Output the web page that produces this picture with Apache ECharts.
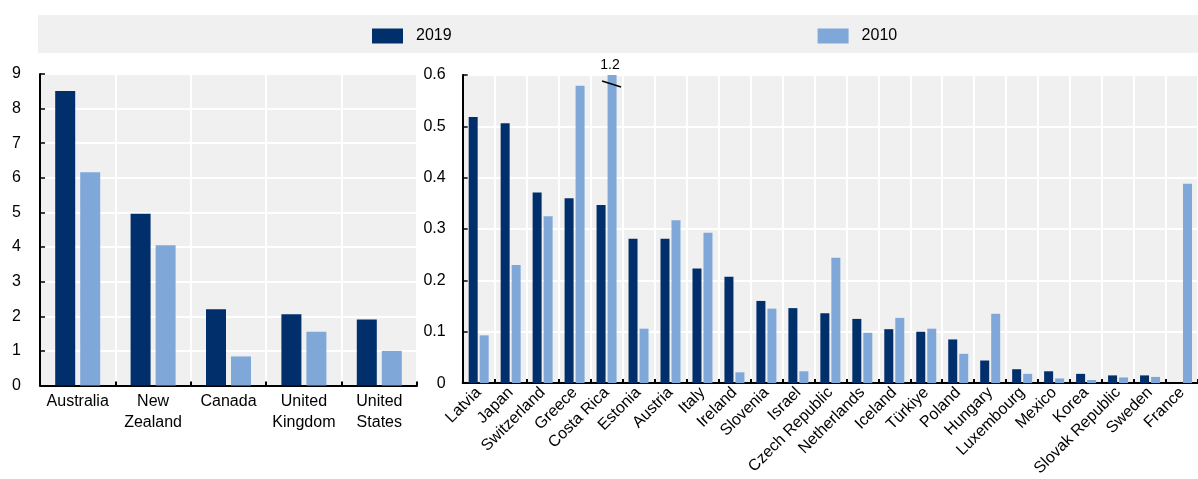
<!DOCTYPE html>
<html>
<head>
<meta charset="utf-8">
<script src="https://cdn.jsdelivr.net/npm/echarts@6/dist/echarts.min.js"></script>
<style>
html,body{margin:0;padding:0;background:#fff;}
#chart{width:1198px;height:479px;}
</style>
</head>
<body>
<div id="chart"></div>
<script>
// ---- Data ----
const seriesNames = ['2019', '2010'];
const leftCategories = ['Australia', 'New\nZealand', 'Canada', 'United\nKingdom', 'United\nStates'];
const left2019 = [8.51, 4.96, 2.20, 2.06, 1.91];
const left2010 = [6.16, 4.05, 0.84, 1.55, 1.00];
const leftAxisMax = 9;
const leftAxisInterval = 1;

const rightCategories = ['Latvia', 'Japan', 'Switzerland', 'Greece', 'Costa Rica', 'Estonia', 'Austria', 'Italy',
  'Ireland', 'Slovenia', 'Israel', 'Czech Republic', 'Netherlands', 'Iceland', 'Türkiye', 'Poland', 'Hungary',
  'Luxembourg', 'Mexico', 'Korea', 'Slovak Republic', 'Sweden', 'France'];
const right2019 = [0.518, 0.506, 0.371, 0.360, 0.347, 0.281, 0.281, 0.223, 0.207, 0.160, 0.146, 0.136, 0.125,
  0.105, 0.100, 0.085, 0.044, 0.027, 0.023, 0.018, 0.015, 0.015, null];
const right2010 = [0.093, 0.230, 0.325, 0.579, 1.2, 0.106, 0.317, 0.293, 0.021, 0.145, 0.023, 0.244, 0.098,
  0.127, 0.106, 0.057, 0.135, 0.018, 0.009, 0.006, 0.011, 0.012, 0.388];
const rightAxisMax = 0.6;
const rightAxisInterval = 0.1;

// ---- Styles ----
const FONT = "'Liberation Sans', Arial, sans-serif";
const FS = 16;
const C2019 = '#002f6c';
const C2010 = '#7fa8d9';
const PLOT_BG = '#f0f0f0';
const RIGHT_BAR_W = 9, RIGHT_GAP = 2;

const chart = echarts.init(document.getElementById('chart'), null, {renderer: 'canvas'});

// Overflow markers (values above the right axis max)
const overflowData = [];
right2010.forEach((v, i) => { if (v != null && v > rightAxisMax) overflowData.push([i, v]); });

const axisLineStyle = {show: true, lineStyle: {color: '#000', width: 2}};

const option = {
  animation: false,
  textStyle: {fontFamily: FONT},
  graphic: [{
    type: 'rect', z: -10, silent: true,
    shape: {x: 38, y: 15, width: 1160, height: 38},
    style: {fill: PLOT_BG}
  }],
  legend: {
    data: seriesNames,
    left: 367, top: 23,
    itemWidth: 31, itemHeight: 15, itemGap: 366,
    icon: 'rect',
    textStyle: {color: '#000', fontFamily: FONT, fontSize: FS, padding: [0, 0, 0, 8]}
  },
  grid: [
    {left: 40, top: 74, width: 377, height: 311.5, show: true, backgroundColor: PLOT_BG, borderWidth: 0, containLabel: false},
    {left: 462.7, top: 75, width: 745.9, height: 311, show: true, backgroundColor: PLOT_BG, borderWidth: 0, containLabel: false}
  ],
  xAxis: [
    {
      type: 'category', gridIndex: 0, data: leftCategories, boundaryGap: true,
      axisLine: axisLineStyle,
      axisTick: {show: true, inside: true, length: 4, lineStyle: {color: '#000', width: 2}},
      axisLabel: {color: '#000', fontFamily: FONT, fontSize: FS, lineHeight: 21, margin: 6, interval: 0},
      splitLine: {show: true, interval: 0, lineStyle: {color: '#fff', width: 2}}
    },
    {
      type: 'category', gridIndex: 1, data: rightCategories, boundaryGap: true,
      axisLine: axisLineStyle,
      axisTick: {show: true, inside: true, length: 4, lineStyle: {color: '#000', width: 2}},
      axisLabel: {color: '#000', fontFamily: FONT, fontSize: FS, rotate: 45, margin: 7, interval: 0},
      splitLine: {show: true, interval: 0, lineStyle: {color: '#fff', width: 2}}
    }
  ],
  yAxis: [
    {
      type: 'value', gridIndex: 0, min: 0, max: leftAxisMax, interval: leftAxisInterval,
      axisLine: axisLineStyle,
      axisTick: {show: true, inside: true, length: 5, lineStyle: {color: '#000', width: 1.5}},
      axisLabel: {color: '#000', fontFamily: FONT, fontSize: FS, margin: 19},
      splitLine: {show: true, lineStyle: {color: '#fff', width: 2}}
    },
    {
      type: 'value', gridIndex: 1, min: 0, max: rightAxisMax, interval: rightAxisInterval,
      axisLine: axisLineStyle,
      axisTick: {show: true, inside: true, length: 5, lineStyle: {color: '#000', width: 1.5}},
      axisLabel: {color: '#000', fontFamily: FONT, fontSize: FS, margin: 17,
        formatter: v => (v === 0 ? '0' : v.toFixed(1))},
      splitLine: {show: true, lineStyle: {color: '#fff', width: 2}}
    }
  ],
  series: [
    {name: '2019', type: 'bar', xAxisIndex: 0, yAxisIndex: 0, data: left2019, barWidth: 20, barGap: '25%',
      itemStyle: {color: C2019}},
    {name: '2010', type: 'bar', xAxisIndex: 0, yAxisIndex: 0, data: left2010, barWidth: 20, barGap: '25%',
      itemStyle: {color: C2010}},
    {name: '2019', type: 'bar', xAxisIndex: 1, yAxisIndex: 1, data: right2019, barWidth: RIGHT_BAR_W,
      barGap: (RIGHT_GAP / RIGHT_BAR_W * 100) + '%', itemStyle: {color: C2019}, clip: true},
    {name: '2010', type: 'bar', xAxisIndex: 1, yAxisIndex: 1, data: right2010, barWidth: RIGHT_BAR_W,
      barGap: (RIGHT_GAP / RIGHT_BAR_W * 100) + '%', itemStyle: {color: C2010}, clip: true},
    {
      name: 'overflow', type: 'custom', xAxisIndex: 1, yAxisIndex: 1, data: overflowData, z: 10, clip: false,
      silent: true,
      renderItem: function (params, api) {
        const p = api.coord([api.value(0), rightAxisMax]);
        const x = p[0] + (RIGHT_BAR_W + RIGHT_GAP) / 2;
        const y = p[1];
        return {
          type: 'group',
          children: [
            {type: 'line', shape: {x1: x - 10, y1: y + 6, x2: x + 9, y2: y + 12},
              style: {stroke: '#000', lineWidth: 1.5}},
            {type: 'text', style: {text: String(api.value(1)), x: x - 2, y: y - 10, textAlign: 'center',
              textVerticalAlign: 'middle', font: '14px ' + FONT, fill: '#000'}}
          ]
        };
      }
    }
  ]
};
chart.setOption(option);
</script>
</body>
</html>
